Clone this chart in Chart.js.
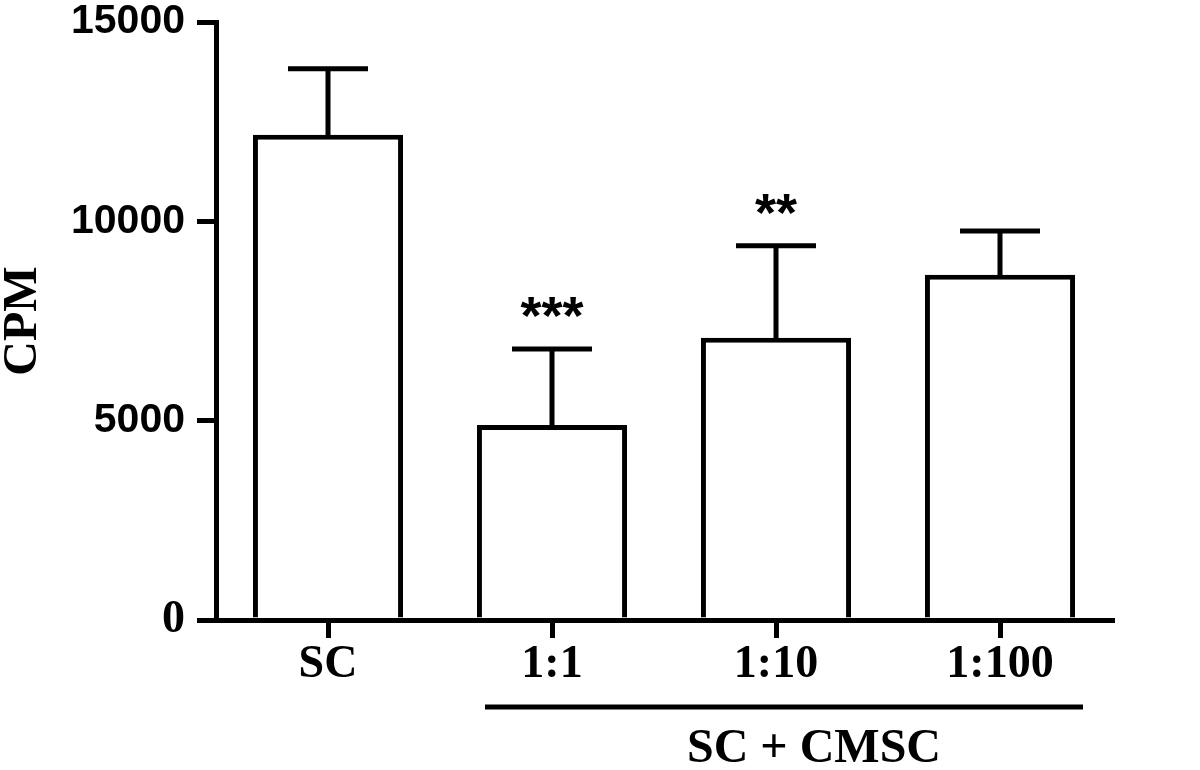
<!DOCTYPE html>
<html>
<head>
<meta charset="utf-8">
<script src="https://cdn.jsdelivr.net/npm/chart.js@4"></script>
<style>
  html, body { margin: 0; padding: 0; background: #fff; }
  #wrap { width: 1200px; height: 770px; }
</style>
</head>
<body>
<div id="wrap"><canvas id="chart"></canvas></div>
<script>
// values
const categories = ['SC', '1:1', '1:10', '1:100'];
const cpmMean = [12170, 4890, 7080, 8660];
const cpmErrTop = [13830, 6800, 9390, 9760];
const stars = ['', '***', '**', ''];
const yTicks = [0, 5000, 10000, 15000];
const groupLabel = 'SC + CMSC';

const serif = '"Liberation Serif", "Times New Roman", serif';
const sans = '"Liberation Sans", Arial, sans-serif';

// error bars, significance stars and the group bracket under the axis
const extras = {
  id: 'extras',
  afterDatasetsDraw(chart) {
    const ctx = chart.ctx;
    const x = chart.scales.x;
    const y = chart.scales.y;
    ctx.save();
    ctx.strokeStyle = '#000';
    ctx.fillStyle = '#000';
    ctx.lineWidth = 5;
    ctx.lineCap = 'butt';
    const meta = chart.getDatasetMeta(0);
    meta.data.forEach((bar, i) => {
      const cx = bar.x;
      const yTop = y.getPixelForValue(cpmErrTop[i]);
      ctx.beginPath();
      ctx.moveTo(cx, bar.y + 2);
      ctx.lineTo(cx, yTop);
      ctx.moveTo(cx - 40, yTop);
      ctx.lineTo(cx + 40, yTop);
      ctx.stroke();
      if (stars[i]) {
        ctx.font = 'bold 54px ' + sans;
        ctx.textAlign = 'center';
        ctx.textBaseline = 'alphabetic';
        const m = ctx.measureText(stars[i]);
        const mid = yTop - 41;
        // put the glyphs' visual centre on mid
        const base = mid + (m.actualBoundingBoxAscent - m.actualBoundingBoxDescent) / 2;
        ctx.fillText(stars[i], cx, base);
      }
    });
    // bracket under 1:1 .. 1:100
    const lx = x.getPixelForValue(1) - 67;
    const rx = x.getPixelForValue(3) + 83;
    ctx.lineWidth = 5;
    ctx.beginPath();
    ctx.moveTo(lx, 707);
    ctx.lineTo(rx, 707);
    ctx.stroke();
    ctx.font = 'bold 48px ' + serif;
    ctx.textAlign = 'center';
    ctx.textBaseline = 'middle';
    ctx.fillText(groupLabel, (lx + rx) / 2 + 30, 750);
    ctx.restore();
  }
};

new Chart(document.getElementById('chart'), {
  type: 'bar',
  data: {
    labels: categories,
    datasets: [{
      data: cpmMean,
      backgroundColor: '#fff',
      borderColor: '#000',
      borderWidth: 5,
      borderSkipped: 'bottom',
      barPercentage: 0.67,
      categoryPercentage: 1
    }]
  },
  options: {
    responsive: true,
    maintainAspectRatio: false,
    animation: false,
    layout: { padding: { top: 22, right: 88, left: 0, bottom: 0 } },
    plugins: {
      legend: { display: false },
      tooltip: { enabled: false }
    },
    scales: {
      x: {
        offset: true,
        grid: {
          offset: false,
          drawOnChartArea: false,
          color: '#000',
          lineWidth: 5,
          tickLength: 18
        },
        border: { color: '#000', width: 5 },
        ticks: {
          color: '#000',
          padding: 4,
          font: { family: serif, size: 46, weight: 'bold', lineHeight: 1 }
        },
        afterFit(scale) { scale.height = 150; }
      },
      y: {
        min: 0,
        max: 15000,
        afterBuildTicks(scale) { scale.ticks = yTicks.map(v => ({ value: v })); },
        grid: {
          drawOnChartArea: false,
          color: '#000',
          lineWidth: 5,
          tickLength: 19
        },
        border: { color: '#000', width: 5 },
        ticks: {
          color: '#000',
          padding: 12,
          callback: (v) => String(v),
          font: (c) => c.tick && c.tick.value === 0
            ? { family: serif, size: 46, weight: 'bold', lineHeight: 1 }
            : { family: sans, size: 41, weight: 'bold', lineHeight: 1 }
        },
        title: {
          display: true,
          text: 'CPM',
          color: '#000',
          padding: 0,
          font: { family: serif, size: 48, weight: 'bold', lineHeight: 1 }
        },
        afterFit(scale) {
          scale.width = 216;
          scale.paddingTop = 0;
          scale.paddingBottom = 0;
        }
      }
    }
  },
  plugins: [extras]
});
</script>
</body>
</html>
